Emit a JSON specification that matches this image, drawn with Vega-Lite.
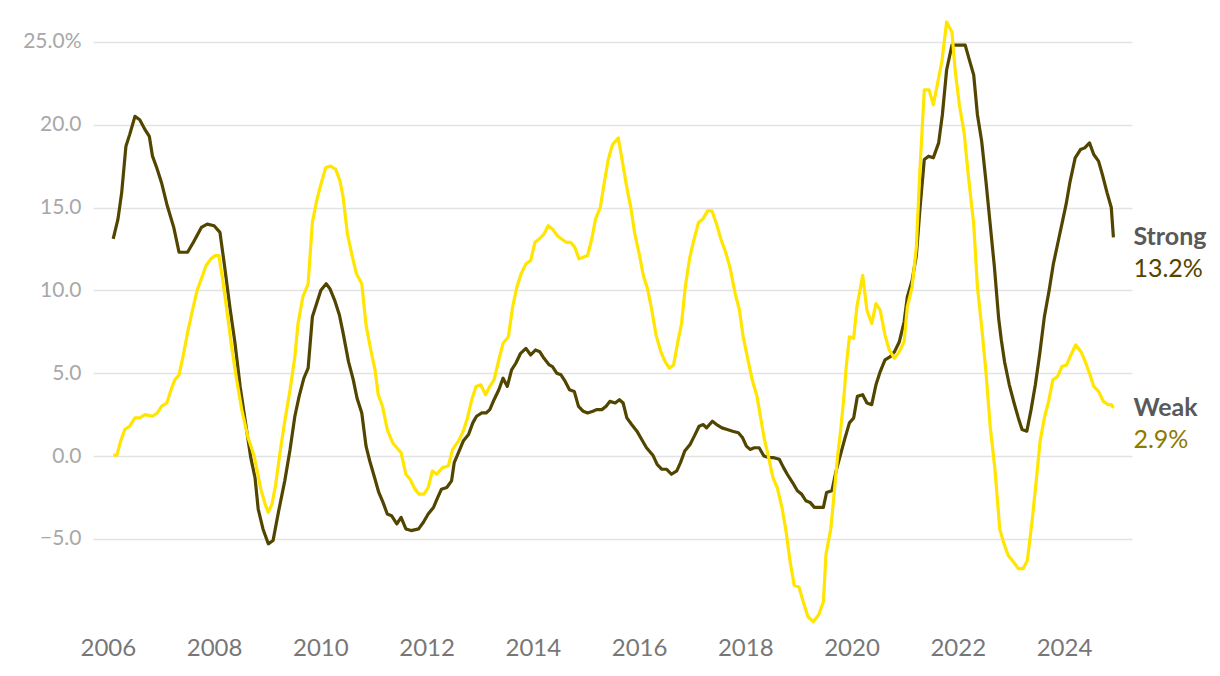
{
  "$schema": "https://vega.github.io/schema/vega-lite/v6.json",
  "width": 1039,
  "height": 608,
  "autosize": {"type": "none"},
  "padding": {"left": 93, "top": 17, "right": 88, "bottom": 51},
  "config": {
    "font": "Lato",
    "view": {"stroke": null},
    "background": "white"
  },
  "datasets": {
    "series": [
      {"s":"Strong","year":2006.10,"v":13.1},{"s":"Strong","year":2006.19,"v":14.3},{"s":"Strong","year":2006.26,"v":15.9},{"s":"Strong","year":2006.34,"v":18.7},{"s":"Strong","year":2006.41,"v":19.4},{"s":"Strong","year":2006.51,"v":20.5},{"s":"Strong","year":2006.60,"v":20.3},{"s":"Strong","year":2006.70,"v":19.7},{"s":"Strong","year":2006.78,"v":19.3},{"s":"Strong","year":2006.84,"v":18.1},{"s":"Strong","year":2006.92,"v":17.4},{"s":"Strong","year":2007.01,"v":16.5},{"s":"Strong","year":2007.11,"v":15.2},{"s":"Strong","year":2007.24,"v":13.8},{"s":"Strong","year":2007.34,"v":12.3},{"s":"Strong","year":2007.50,"v":12.3},{"s":"Strong","year":2007.61,"v":12.9},{"s":"Strong","year":2007.76,"v":13.8},{"s":"Strong","year":2007.87,"v":14.0},{"s":"Strong","year":2008.00,"v":13.9},{"s":"Strong","year":2008.11,"v":13.5},{"s":"Strong","year":2008.20,"v":11.4},{"s":"Strong","year":2008.30,"v":8.9},{"s":"Strong","year":2008.39,"v":6.9},{"s":"Strong","year":2008.49,"v":4.2},{"s":"Strong","year":2008.61,"v":1.6},{"s":"Strong","year":2008.69,"v":-0.1},{"s":"Strong","year":2008.77,"v":-1.3},{"s":"Strong","year":2008.83,"v":-3.2},{"s":"Strong","year":2008.92,"v":-4.4},{"s":"Strong","year":2009.02,"v":-5.3},{"s":"Strong","year":2009.11,"v":-5.1},{"s":"Strong","year":2009.21,"v":-3.4},{"s":"Strong","year":2009.33,"v":-1.5},{"s":"Strong","year":2009.43,"v":0.4},{"s":"Strong","year":2009.52,"v":2.4},{"s":"Strong","year":2009.60,"v":3.6},{"s":"Strong","year":2009.69,"v":4.7},{"s":"Strong","year":2009.77,"v":5.3},{"s":"Strong","year":2009.85,"v":8.4},{"s":"Strong","year":2009.93,"v":9.2},{"s":"Strong","year":2010.01,"v":10.0},{"s":"Strong","year":2010.11,"v":10.4},{"s":"Strong","year":2010.18,"v":10.1},{"s":"Strong","year":2010.27,"v":9.4},{"s":"Strong","year":2010.36,"v":8.5},{"s":"Strong","year":2010.43,"v":7.4},{"s":"Strong","year":2010.53,"v":5.7},{"s":"Strong","year":2010.62,"v":4.6},{"s":"Strong","year":2010.69,"v":3.5},{"s":"Strong","year":2010.78,"v":2.6},{"s":"Strong","year":2010.86,"v":0.6},{"s":"Strong","year":2010.93,"v":-0.3},{"s":"Strong","year":2011.03,"v":-1.4},{"s":"Strong","year":2011.10,"v":-2.2},{"s":"Strong","year":2011.18,"v":-2.8},{"s":"Strong","year":2011.26,"v":-3.5},{"s":"Strong","year":2011.34,"v":-3.6},{"s":"Strong","year":2011.44,"v":-4.1},{"s":"Strong","year":2011.52,"v":-3.7},{"s":"Strong","year":2011.61,"v":-4.4},{"s":"Strong","year":2011.71,"v":-4.5},{"s":"Strong","year":2011.85,"v":-4.4},{"s":"Strong","year":2011.94,"v":-4.0},{"s":"Strong","year":2012.03,"v":-3.5},{"s":"Strong","year":2012.13,"v":-3.1},{"s":"Strong","year":2012.21,"v":-2.5},{"s":"Strong","year":2012.28,"v":-2.0},{"s":"Strong","year":2012.38,"v":-1.9},{"s":"Strong","year":2012.47,"v":-1.5},{"s":"Strong","year":2012.52,"v":-0.4},{"s":"Strong","year":2012.60,"v":0.2},{"s":"Strong","year":2012.69,"v":0.9},{"s":"Strong","year":2012.79,"v":1.3},{"s":"Strong","year":2012.87,"v":2.0},{"s":"Strong","year":2012.94,"v":2.4},{"s":"Strong","year":2013.04,"v":2.6},{"s":"Strong","year":2013.12,"v":2.6},{"s":"Strong","year":2013.19,"v":2.8},{"s":"Strong","year":2013.27,"v":3.4},{"s":"Strong","year":2013.36,"v":4.0},{"s":"Strong","year":2013.44,"v":4.7},{"s":"Strong","year":2013.52,"v":4.2},{"s":"Strong","year":2013.60,"v":5.2},{"s":"Strong","year":2013.68,"v":5.6},{"s":"Strong","year":2013.77,"v":6.2},{"s":"Strong","year":2013.87,"v":6.5},{"s":"Strong","year":2013.96,"v":6.1},{"s":"Strong","year":2014.05,"v":6.4},{"s":"Strong","year":2014.13,"v":6.3},{"s":"Strong","year":2014.21,"v":5.9},{"s":"Strong","year":2014.31,"v":5.5},{"s":"Strong","year":2014.37,"v":5.4},{"s":"Strong","year":2014.45,"v":5.0},{"s":"Strong","year":2014.53,"v":4.9},{"s":"Strong","year":2014.61,"v":4.5},{"s":"Strong","year":2014.69,"v":4.0},{"s":"Strong","year":2014.78,"v":3.9},{"s":"Strong","year":2014.86,"v":3.0},{"s":"Strong","year":2014.95,"v":2.7},{"s":"Strong","year":2015.03,"v":2.6},{"s":"Strong","year":2015.13,"v":2.7},{"s":"Strong","year":2015.20,"v":2.8},{"s":"Strong","year":2015.30,"v":2.8},{"s":"Strong","year":2015.38,"v":3.0},{"s":"Strong","year":2015.45,"v":3.3},{"s":"Strong","year":2015.55,"v":3.2},{"s":"Strong","year":2015.63,"v":3.4},{"s":"Strong","year":2015.70,"v":3.2},{"s":"Strong","year":2015.77,"v":2.3},{"s":"Strong","year":2015.86,"v":1.9},{"s":"Strong","year":2015.96,"v":1.5},{"s":"Strong","year":2016.05,"v":1.0},{"s":"Strong","year":2016.14,"v":0.5},{"s":"Strong","year":2016.26,"v":0.05},{"s":"Strong","year":2016.34,"v":-0.5},{"s":"Strong","year":2016.43,"v":-0.8},{"s":"Strong","year":2016.52,"v":-0.8},{"s":"Strong","year":2016.61,"v":-1.1},{"s":"Strong","year":2016.71,"v":-0.9},{"s":"Strong","year":2016.78,"v":-0.4},{"s":"Strong","year":2016.86,"v":0.3},{"s":"Strong","year":2016.96,"v":0.7},{"s":"Strong","year":2017.04,"v":1.2},{"s":"Strong","year":2017.13,"v":1.8},{"s":"Strong","year":2017.21,"v":1.9},{"s":"Strong","year":2017.27,"v":1.7},{"s":"Strong","year":2017.38,"v":2.1},{"s":"Strong","year":2017.46,"v":1.9},{"s":"Strong","year":2017.56,"v":1.7},{"s":"Strong","year":2017.66,"v":1.6},{"s":"Strong","year":2017.76,"v":1.5},{"s":"Strong","year":2017.87,"v":1.4},{"s":"Strong","year":2017.95,"v":1.1},{"s":"Strong","year":2018.02,"v":0.6},{"s":"Strong","year":2018.09,"v":0.4},{"s":"Strong","year":2018.17,"v":0.5},{"s":"Strong","year":2018.26,"v":0.5},{"s":"Strong","year":2018.35,"v":0.0},{"s":"Strong","year":2018.45,"v":-0.1},{"s":"Strong","year":2018.54,"v":-0.1},{"s":"Strong","year":2018.64,"v":-0.2},{"s":"Strong","year":2018.72,"v":-0.7},{"s":"Strong","year":2018.79,"v":-1.1},{"s":"Strong","year":2018.89,"v":-1.6},{"s":"Strong","year":2018.98,"v":-2.1},{"s":"Strong","year":2019.06,"v":-2.3},{"s":"Strong","year":2019.14,"v":-2.7},{"s":"Strong","year":2019.22,"v":-2.8},{"s":"Strong","year":2019.30,"v":-3.1},{"s":"Strong","year":2019.38,"v":-3.1},{"s":"Strong","year":2019.47,"v":-3.1},{"s":"Strong","year":2019.53,"v":-2.2},{"s":"Strong","year":2019.63,"v":-2.1},{"s":"Strong","year":2019.71,"v":-0.9},{"s":"Strong","year":2019.79,"v":0.05},{"s":"Strong","year":2019.87,"v":1.0},{"s":"Strong","year":2019.96,"v":2.0},{"s":"Strong","year":2020.04,"v":2.3},{"s":"Strong","year":2020.11,"v":3.6},{"s":"Strong","year":2020.21,"v":3.7},{"s":"Strong","year":2020.29,"v":3.2},{"s":"Strong","year":2020.38,"v":3.1},{"s":"Strong","year":2020.46,"v":4.3},{"s":"Strong","year":2020.54,"v":5.1},{"s":"Strong","year":2020.63,"v":5.8},{"s":"Strong","year":2020.73,"v":6.0},{"s":"Strong","year":2020.81,"v":6.3},{"s":"Strong","year":2020.90,"v":6.9},{"s":"Strong","year":2020.99,"v":8.1},{"s":"Strong","year":2021.05,"v":9.6},{"s":"Strong","year":2021.14,"v":10.6},{"s":"Strong","year":2021.22,"v":12.1},{"s":"Strong","year":2021.29,"v":15.0},{"s":"Strong","year":2021.37,"v":17.9},{"s":"Strong","year":2021.45,"v":18.1},{"s":"Strong","year":2021.54,"v":18.0},{"s":"Strong","year":2021.64,"v":18.9},{"s":"Strong","year":2021.71,"v":20.6},{"s":"Strong","year":2021.79,"v":23.3},{"s":"Strong","year":2021.89,"v":24.8},{"s":"Strong","year":2021.98,"v":24.8},{"s":"Strong","year":2022.08,"v":24.8},{"s":"Strong","year":2022.14,"v":24.8},{"s":"Strong","year":2022.21,"v":24.0},{"s":"Strong","year":2022.30,"v":23.0},{"s":"Strong","year":2022.37,"v":20.6},{"s":"Strong","year":2022.45,"v":19.0},{"s":"Strong","year":2022.53,"v":16.6},{"s":"Strong","year":2022.61,"v":14.0},{"s":"Strong","year":2022.69,"v":11.4},{"s":"Strong","year":2022.77,"v":8.3},{"s":"Strong","year":2022.82,"v":7.0},{"s":"Strong","year":2022.88,"v":5.7},{"s":"Strong","year":2022.97,"v":4.3},{"s":"Strong","year":2023.06,"v":3.2},{"s":"Strong","year":2023.14,"v":2.3},{"s":"Strong","year":2023.21,"v":1.6},{"s":"Strong","year":2023.30,"v":1.5},{"s":"Strong","year":2023.38,"v":2.8},{"s":"Strong","year":2023.46,"v":4.3},{"s":"Strong","year":2023.54,"v":6.1},{"s":"Strong","year":2023.63,"v":8.4},{"s":"Strong","year":2023.72,"v":10.0},{"s":"Strong","year":2023.80,"v":11.6},{"s":"Strong","year":2023.90,"v":13.1},{"s":"Strong","year":2023.96,"v":14.0},{"s":"Strong","year":2024.04,"v":15.2},{"s":"Strong","year":2024.11,"v":16.5},{"s":"Strong","year":2024.21,"v":18.0},{"s":"Strong","year":2024.31,"v":18.5},{"s":"Strong","year":2024.39,"v":18.6},{"s":"Strong","year":2024.48,"v":18.9},{"s":"Strong","year":2024.56,"v":18.2},{"s":"Strong","year":2024.65,"v":17.8},{"s":"Strong","year":2024.73,"v":16.9},{"s":"Strong","year":2024.81,"v":15.9},{"s":"Strong","year":2024.89,"v":15.0},{"s":"Strong","year":2024.93,"v":13.2},
      {"s":"Weak","year":2006.10,"v":0.05},{"s":"Weak","year":2006.17,"v":0.05},{"s":"Weak","year":2006.24,"v":0.9},{"s":"Weak","year":2006.32,"v":1.6},{"s":"Weak","year":2006.41,"v":1.8},{"s":"Weak","year":2006.51,"v":2.3},{"s":"Weak","year":2006.60,"v":2.3},{"s":"Weak","year":2006.70,"v":2.5},{"s":"Weak","year":2006.84,"v":2.4},{"s":"Weak","year":2006.93,"v":2.6},{"s":"Weak","year":2007.01,"v":3.0},{"s":"Weak","year":2007.11,"v":3.2},{"s":"Weak","year":2007.20,"v":4.1},{"s":"Weak","year":2007.26,"v":4.6},{"s":"Weak","year":2007.34,"v":4.9},{"s":"Weak","year":2007.42,"v":6.1},{"s":"Weak","year":2007.51,"v":7.6},{"s":"Weak","year":2007.60,"v":8.9},{"s":"Weak","year":2007.68,"v":10.0},{"s":"Weak","year":2007.76,"v":10.7},{"s":"Weak","year":2007.85,"v":11.5},{"s":"Weak","year":2007.94,"v":11.9},{"s":"Weak","year":2008.02,"v":12.1},{"s":"Weak","year":2008.09,"v":12.1},{"s":"Weak","year":2008.16,"v":10.7},{"s":"Weak","year":2008.24,"v":8.8},{"s":"Weak","year":2008.33,"v":6.6},{"s":"Weak","year":2008.42,"v":4.7},{"s":"Weak","year":2008.52,"v":2.8},{"s":"Weak","year":2008.64,"v":1.1},{"s":"Weak","year":2008.75,"v":0.05},{"s":"Weak","year":2008.81,"v":-0.9},{"s":"Weak","year":2008.88,"v":-2.0},{"s":"Weak","year":2008.96,"v":-2.9},{"s":"Weak","year":2009.02,"v":-3.4},{"s":"Weak","year":2009.09,"v":-2.9},{"s":"Weak","year":2009.16,"v":-1.7},{"s":"Weak","year":2009.24,"v":0.2},{"s":"Weak","year":2009.33,"v":2.1},{"s":"Weak","year":2009.43,"v":4.0},{"s":"Weak","year":2009.52,"v":6.0},{"s":"Weak","year":2009.58,"v":8.0},{"s":"Weak","year":2009.67,"v":9.6},{"s":"Weak","year":2009.77,"v":10.4},{"s":"Weak","year":2009.85,"v":14.1},{"s":"Weak","year":2009.93,"v":15.4},{"s":"Weak","year":2010.01,"v":16.4},{"s":"Weak","year":2010.10,"v":17.4},{"s":"Weak","year":2010.19,"v":17.5},{"s":"Weak","year":2010.29,"v":17.3},{"s":"Weak","year":2010.37,"v":16.6},{"s":"Weak","year":2010.43,"v":15.6},{"s":"Weak","year":2010.51,"v":13.4},{"s":"Weak","year":2010.59,"v":12.2},{"s":"Weak","year":2010.68,"v":11.0},{"s":"Weak","year":2010.78,"v":10.4},{"s":"Weak","year":2010.86,"v":7.9},{"s":"Weak","year":2010.95,"v":6.4},{"s":"Weak","year":2011.03,"v":5.2},{"s":"Weak","year":2011.09,"v":3.7},{"s":"Weak","year":2011.17,"v":3.0},{"s":"Weak","year":2011.26,"v":1.6},{"s":"Weak","year":2011.36,"v":0.8},{"s":"Weak","year":2011.44,"v":0.5},{"s":"Weak","year":2011.52,"v":0.2},{"s":"Weak","year":2011.61,"v":-1.1},{"s":"Weak","year":2011.69,"v":-1.4},{"s":"Weak","year":2011.78,"v":-2.0},{"s":"Weak","year":2011.86,"v":-2.3},{"s":"Weak","year":2011.95,"v":-2.3},{"s":"Weak","year":2012.03,"v":-1.9},{"s":"Weak","year":2012.11,"v":-0.9},{"s":"Weak","year":2012.19,"v":-1.1},{"s":"Weak","year":2012.30,"v":-0.7},{"s":"Weak","year":2012.41,"v":-0.6},{"s":"Weak","year":2012.49,"v":0.4},{"s":"Weak","year":2012.60,"v":0.9},{"s":"Weak","year":2012.69,"v":1.5},{"s":"Weak","year":2012.77,"v":2.3},{"s":"Weak","year":2012.85,"v":3.4},{"s":"Weak","year":2012.93,"v":4.2},{"s":"Weak","year":2013.02,"v":4.3},{"s":"Weak","year":2013.11,"v":3.7},{"s":"Weak","year":2013.19,"v":4.2},{"s":"Weak","year":2013.27,"v":4.6},{"s":"Weak","year":2013.36,"v":5.8},{"s":"Weak","year":2013.44,"v":6.8},{"s":"Weak","year":2013.54,"v":7.2},{"s":"Weak","year":2013.62,"v":9.0},{"s":"Weak","year":2013.70,"v":10.2},{"s":"Weak","year":2013.78,"v":11.0},{"s":"Weak","year":2013.87,"v":11.6},{"s":"Weak","year":2013.96,"v":11.8},{"s":"Weak","year":2014.04,"v":12.9},{"s":"Weak","year":2014.12,"v":13.1},{"s":"Weak","year":2014.21,"v":13.4},{"s":"Weak","year":2014.29,"v":13.9},{"s":"Weak","year":2014.37,"v":13.7},{"s":"Weak","year":2014.46,"v":13.3},{"s":"Weak","year":2014.54,"v":13.1},{"s":"Weak","year":2014.63,"v":12.9},{"s":"Weak","year":2014.71,"v":12.9},{"s":"Weak","year":2014.79,"v":12.6},{"s":"Weak","year":2014.87,"v":11.9},{"s":"Weak","year":2014.95,"v":12.0},{"s":"Weak","year":2015.03,"v":12.1},{"s":"Weak","year":2015.11,"v":13.1},{"s":"Weak","year":2015.18,"v":14.3},{"s":"Weak","year":2015.27,"v":15.0},{"s":"Weak","year":2015.34,"v":16.4},{"s":"Weak","year":2015.42,"v":17.9},{"s":"Weak","year":2015.50,"v":18.8},{"s":"Weak","year":2015.61,"v":19.2},{"s":"Weak","year":2015.69,"v":17.7},{"s":"Weak","year":2015.77,"v":16.2},{"s":"Weak","year":2015.85,"v":14.9},{"s":"Weak","year":2015.92,"v":13.4},{"s":"Weak","year":2016.01,"v":12.1},{"s":"Weak","year":2016.08,"v":10.9},{"s":"Weak","year":2016.16,"v":10.1},{"s":"Weak","year":2016.24,"v":8.8},{"s":"Weak","year":2016.32,"v":7.3},{"s":"Weak","year":2016.41,"v":6.3},{"s":"Weak","year":2016.49,"v":5.7},{"s":"Weak","year":2016.57,"v":5.3},{"s":"Weak","year":2016.65,"v":5.5},{"s":"Weak","year":2016.73,"v":6.9},{"s":"Weak","year":2016.80,"v":8.0},{"s":"Weak","year":2016.87,"v":10.2},{"s":"Weak","year":2016.95,"v":11.9},{"s":"Weak","year":2017.02,"v":12.9},{"s":"Weak","year":2017.12,"v":14.1},{"s":"Weak","year":2017.20,"v":14.3},{"s":"Weak","year":2017.29,"v":14.8},{"s":"Weak","year":2017.37,"v":14.8},{"s":"Weak","year":2017.46,"v":14.0},{"s":"Weak","year":2017.54,"v":13.1},{"s":"Weak","year":2017.63,"v":12.3},{"s":"Weak","year":2017.71,"v":11.4},{"s":"Weak","year":2017.81,"v":9.8},{"s":"Weak","year":2017.89,"v":8.8},{"s":"Weak","year":2017.96,"v":7.2},{"s":"Weak","year":2018.05,"v":5.8},{"s":"Weak","year":2018.13,"v":4.6},{"s":"Weak","year":2018.22,"v":3.6},{"s":"Weak","year":2018.29,"v":2.3},{"s":"Weak","year":2018.36,"v":1.0},{"s":"Weak","year":2018.43,"v":0.05},{"s":"Weak","year":2018.52,"v":-1.3},{"s":"Weak","year":2018.60,"v":-1.9},{"s":"Weak","year":2018.69,"v":-3.1},{"s":"Weak","year":2018.77,"v":-4.6},{"s":"Weak","year":2018.84,"v":-6.3},{"s":"Weak","year":2018.92,"v":-7.8},{"s":"Weak","year":2019.01,"v":-7.9},{"s":"Weak","year":2019.09,"v":-8.8},{"s":"Weak","year":2019.18,"v":-9.7},{"s":"Weak","year":2019.28,"v":-10.0},{"s":"Weak","year":2019.38,"v":-9.6},{"s":"Weak","year":2019.47,"v":-8.8},{"s":"Weak","year":2019.52,"v":-5.9},{"s":"Weak","year":2019.61,"v":-4.4},{"s":"Weak","year":2019.68,"v":-2.0},{"s":"Weak","year":2019.74,"v":0.05},{"s":"Weak","year":2019.80,"v":1.7},{"s":"Weak","year":2019.86,"v":3.7},{"s":"Weak","year":2019.90,"v":5.4},{"s":"Weak","year":2019.96,"v":7.2},{"s":"Weak","year":2020.04,"v":7.1},{"s":"Weak","year":2020.10,"v":9.0},{"s":"Weak","year":2020.21,"v":10.9},{"s":"Weak","year":2020.29,"v":8.8},{"s":"Weak","year":2020.38,"v":8.0},{"s":"Weak","year":2020.46,"v":9.2},{"s":"Weak","year":2020.54,"v":8.8},{"s":"Weak","year":2020.63,"v":7.3},{"s":"Weak","year":2020.71,"v":6.4},{"s":"Weak","year":2020.81,"v":5.9},{"s":"Weak","year":2020.90,"v":6.3},{"s":"Weak","year":2020.99,"v":6.9},{"s":"Weak","year":2021.05,"v":9.0},{"s":"Weak","year":2021.14,"v":10.2},{"s":"Weak","year":2021.22,"v":12.6},{"s":"Weak","year":2021.29,"v":17.4},{"s":"Weak","year":2021.37,"v":22.1},{"s":"Weak","year":2021.46,"v":22.1},{"s":"Weak","year":2021.54,"v":21.2},{"s":"Weak","year":2021.62,"v":22.5},{"s":"Weak","year":2021.70,"v":23.8},{"s":"Weak","year":2021.79,"v":26.2},{"s":"Weak","year":2021.89,"v":25.6},{"s":"Weak","year":2021.95,"v":23.3},{"s":"Weak","year":2022.03,"v":21.2},{"s":"Weak","year":2022.12,"v":19.5},{"s":"Weak","year":2022.20,"v":16.9},{"s":"Weak","year":2022.30,"v":14.0},{"s":"Weak","year":2022.37,"v":10.2},{"s":"Weak","year":2022.45,"v":7.8},{"s":"Weak","year":2022.53,"v":5.1},{"s":"Weak","year":2022.61,"v":1.8},{"s":"Weak","year":2022.70,"v":-0.8},{"s":"Weak","year":2022.79,"v":-4.4},{"s":"Weak","year":2022.86,"v":-5.2},{"s":"Weak","year":2022.95,"v":-6.0},{"s":"Weak","year":2023.05,"v":-6.4},{"s":"Weak","year":2023.14,"v":-6.8},{"s":"Weak","year":2023.23,"v":-6.8},{"s":"Weak","year":2023.31,"v":-6.3},{"s":"Weak","year":2023.40,"v":-3.9},{"s":"Weak","year":2023.48,"v":-1.4},{"s":"Weak","year":2023.55,"v":0.9},{"s":"Weak","year":2023.63,"v":2.3},{"s":"Weak","year":2023.71,"v":3.3},{"s":"Weak","year":2023.79,"v":4.6},{"s":"Weak","year":2023.88,"v":4.8},{"s":"Weak","year":2023.96,"v":5.4},{"s":"Weak","year":2024.05,"v":5.5},{"s":"Weak","year":2024.13,"v":6.1},{"s":"Weak","year":2024.22,"v":6.7},{"s":"Weak","year":2024.32,"v":6.3},{"s":"Weak","year":2024.40,"v":5.7},{"s":"Weak","year":2024.48,"v":5.0},{"s":"Weak","year":2024.56,"v":4.2},{"s":"Weak","year":2024.65,"v":3.9},{"s":"Weak","year":2024.74,"v":3.3},{"s":"Weak","year":2024.83,"v":3.1},{"s":"Weak","year":2024.89,"v":3.1},{"s":"Weak","year":2024.93,"v":2.9}
    ],
    "labels": [
      {"s":"Strong","year":2024.93,"v":13.2,"pct":"13.2%"},
      {"s":"Weak","year":2024.93,"v":2.9,"pct":"2.9%"}
    ]
  },
  "layer": [
    {
      "data": {"name": "series"},
      "mark": {"type": "line", "strokeWidth": 3.2, "strokeJoin": "round", "strokeCap": "butt"},
      "encoding": {
        "x": {
          "field": "year", "type": "quantitative",
          "scale": {"domain": [2005.72, 2025.28], "nice": false, "zero": false},
          "axis": {
            "values": [2006, 2008, 2010, 2012, 2014, 2016, 2018, 2020, 2022, 2024],
            "format": "d", "title": null, "grid": false, "domain": false, "ticks": false,
            "labelFont": "Lato", "labelFontSize": 24, "labelColor": "#777777",
            "labelPadding": 11, "labelBaseline": "top"
          }
        },
        "y": {
          "field": "v", "type": "quantitative",
          "scale": {"domain": [-10.2, 26.5], "nice": false, "zero": false},
          "axis": {
            "values": [-5, 0, 5, 10, 15, 20, 25],
            "labelExpr": "datum.value == 25 ? '25.0%' : format(datum.value, '.1f')",
            "title": null, "domain": false, "ticks": false, "grid": true,
            "gridColor": "#e3e3e3", "gridWidth": 1.5,
            "labelFont": "Lato", "labelFontSize": 21, "labelColor": "#a8a8a8",
            "labelPadding": 12
          }
        },
        "color": {
          "field": "s", "type": "nominal",
          "scale": {"domain": ["Strong", "Weak"], "range": ["#524500", "#ffe500"]},
          "legend": null
        },
        "detail": {"field": "s"}
      }
    },
    {
      "mark": {"type": "rule", "color": "#333333", "strokeWidth": 1.5},
      "encoding": {"y": {"datum": 0}}
    },
    {
      "data": {"name": "labels"},
      "mark": {"type": "text", "align": "left", "baseline": "middle", "dx": 20, "dy": 0, "fontSize": 25, "fontWeight": "bold", "font": "Lato", "color": "#595959"},
      "encoding": {
        "x": {"field": "year", "type": "quantitative"},
        "y": {"field": "v", "type": "quantitative"},
        "text": {"field": "s"}
      }
    },
    {
      "data": {"name": "labels"},
      "mark": {"type": "text", "align": "left", "baseline": "middle", "dx": 20, "dy": 32, "fontSize": 25, "font": "Lato"},
      "encoding": {
        "x": {"field": "year", "type": "quantitative"},
        "y": {"field": "v", "type": "quantitative"},
        "text": {"field": "pct"},
        "color": {
          "field": "s", "type": "nominal",
          "scale": {"domain": ["Strong", "Weak"], "range": ["#524500", "#8c7b00"]},
          "legend": null
        }
      }
    }
  ],
  "resolve": {"scale": {"color": "independent"}}
}
